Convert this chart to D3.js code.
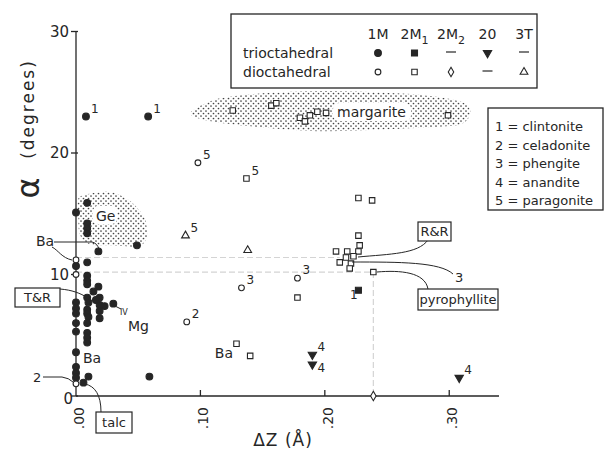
<!DOCTYPE html>
<html>
<head>
<meta charset="utf-8">
<script src="https://cdn.jsdelivr.net/npm/d3@7"></script>
<style>
body { margin: 0; background: #fff; }
text { font-family: "DejaVu Sans", sans-serif; fill: #262626; }
</style>
</head>
<body>
<svg id="chart" width="606" height="450"></svg>
<script>
// [dZ, alpha, label]
const trioct1M = [
    [0.008, 23.0, "1"], [0.058, 23.0, "1"],
    [0.009, 15.9], [0.000, 15.1], [0.009, 14.2], [0.009, 13.8], [0.009, 13.4],
    [0.018, 11.9], [0.049, 12.4], [0.000, 10.7], [0.009, 11.0], [0.009, 9.9],
    [0.009, 9.5], [0.009, 9.2], [0.018, 9.0],
    [0.000, 7.7], [0.000, 7.2], [0.000, 6.8], [0.000, 6.0], [0.000, 5.3],
    [0.000, 3.6], [0.000, 2.4], [0.000, 1.9], [0.000, 1.5],
    [0.009, 8.1], [0.010, 7.7], [0.019, 8.1], [0.019, 7.5], [0.023, 7.4],
    [0.030, 7.6], [0.009, 7.1], [0.009, 6.8], [0.010, 6.5], [0.019, 7.0],
    [0.019, 6.4], [0.009, 6.0], [0.009, 5.2], [0.009, 4.8], [0.009, 4.4],
    [0.010, 1.6], [0.006, 1.1], [0.059, 1.6], [0.014, 8.6], [0.016, 7.9]
];
const dioct1M = [
    [0.098, 19.2, "5"], [0.089, 6.1, "2"], [0.133, 8.9, "3"], [0.178, 9.7, "3"],
    [0.000, 11.2], [0.000, 10.0], [0.000, 1.0]
];
const dioct2M1 = [
    [0.137, 17.9, "5"], [0.227, 16.3], [0.238, 16.1],
    [0.126, 23.5], [0.157, 23.9], [0.161, 24.1], [0.180, 22.9], [0.184, 22.6],
    [0.188, 23.1], [0.194, 23.4], [0.201, 23.3], [0.299, 23.1],
    [0.209, 11.9], [0.218, 11.9], [0.227, 11.9], [0.228, 12.4], [0.227, 13.2],
    [0.212, 11.0], [0.217, 11.4], [0.221, 10.9], [0.220, 10.5], [0.223, 11.5],
    [0.239, 10.2], [0.178, 8.1], [0.129, 4.3], [0.140, 3.3]
];
const trioct2M1 = [[0.227, 8.7]];
const trioct20 = [[0.190, 3.4, "4"], [0.190, 2.6, "4"], [0.308, 1.5, "4"]];
const dioct2M2 = [[0.239, 0]];
const dioct3T = [[0.088, 13.2, "5"], [0.138, 12.0]];

const xTicks = [0, 0.1, 0.2, 0.3];
const xTickLabels = [".00", ".10", ".20", ".30"];
const yTicks = [0, 10, 20, 30];
const polytypes = ["1M", "2M1", "2M2", "20", "3T"];
const mineralKey = ["1 = clintonite", "2 = celadonite", "3 = phengite", "4 = anandite", "5 = paragonite"];

const margariteOutline = [
    [0.092, 23.3], [0.112, 24.4], [0.148, 24.9], [0.204, 25.1], [0.276, 24.8],
    [0.310, 24.2], [0.317, 23.3], [0.307, 22.3], [0.260, 22.0], [0.196, 21.8],
    [0.140, 22.2], [0.104, 22.7]
];
const geOutline = [
    [0.003, 16.4], [0.027, 16.8], [0.043, 16.1], [0.055, 14.7], [0.057, 13.1],
    [0.050, 12.3], [0.027, 12.4], [0.011, 12.5], [0.003, 13.3], [0.002, 14.9]
];

const ink = "#262626";
const svg = d3.select("#chart");
svg.append("rect").attr("width", 606).attr("height", 450).attr("fill", "#fff");

const x = d3.scaleLinear().domain([0, 0.34]).range([76, 499]);
const y = d3.scaleLinear().domain([0, 30]).range([396, 31.5]);

// stipple pattern
const defs = svg.append("defs");
const pat = defs.append("pattern").attr("id", "stip")
    .attr("width", 5).attr("height", 5).attr("patternUnits", "userSpaceOnUse");
pat.append("circle").attr("cx", 1).attr("cy", 1).attr("r", 0.85).attr("fill", "#444");
pat.append("circle").attr("cx", 3.5).attr("cy", 3.5).attr("r", 0.85).attr("fill", "#444");

const blob = d3.line().x(d => x(d[0])).y(d => y(d[1])).curve(d3.curveCardinalClosed.tension(0.2));
svg.append("path").attr("d", blob(margariteOutline)).attr("fill", "url(#stip)");
svg.append("path").attr("d", blob(geOutline)).attr("fill", "url(#stip)");
// clearings behind the region names
svg.append("rect").attr("x", 333).attr("y", 103).attr("width", 78).attr("height", 18).attr("rx", 6).attr("fill", "#fff");
svg.append("rect").attr("x", 93).attr("y", 206).attr("width", 24).attr("height", 18).attr("rx", 5).attr("fill", "#fff");

// faint reference lines
const faint = svg.append("g").attr("stroke", "#d4d4d4").attr("stroke-width", 1.2).attr("stroke-dasharray", "6,3");
faint.append("line").attr("x1", x(0)).attr("x2", x(0.239)).attr("y1", y(10.2)).attr("y2", y(10.2));
faint.append("line").attr("x1", x(0)).attr("x2", x(0.212)).attr("y1", y(11.4)).attr("y2", y(11.4));
faint.append("line").attr("x1", x(0.239)).attr("x2", x(0.239)).attr("y1", y(10.2)).attr("y2", y(0));

// axes
const ax = svg.append("g").attr("stroke", ink).attr("stroke-width", 1.3);
ax.append("line").attr("x1", x(0)).attr("x2", x(0)).attr("y1", y(30)).attr("y2", y(0));
ax.append("line").attr("x1", x(0)).attr("x2", x(0.34)).attr("y1", y(0)).attr("y2", y(0));
yTicks.forEach(t => {
    ax.append("line").attr("x1", x(0) - 5).attr("x2", x(0) + 2).attr("y1", y(t)).attr("y2", y(t));
});
xTicks.slice(1).forEach(t => {
    ax.append("line").attr("x1", x(t)).attr("x2", x(t)).attr("y1", y(0)).attr("y2", y(0) - 6);
});
svg.append("g").selectAll("text").data(yTicks).join("text")
    .attr("x", d => d === 0 ? x(0) - 3 : x(0) - 7)
    .attr("y", d => d === 0 ? y(d) + 3 : y(d))
    .attr("dy", "0.35em").attr("text-anchor", "end").attr("font-size", 15)
    .text(d => d);
svg.append("g").selectAll("text").data(xTicks).join("text")
    .attr("transform", d => `translate(${x(d) + 3},${y(0) + 11}) rotate(-90)`)
    .attr("dy", "0.35em").attr("text-anchor", "end").attr("font-size", 14)
    .text((d, i) => xTickLabels[i]);

svg.append("text").attr("transform", "translate(28,188) rotate(-90)")
    .attr("text-anchor", "middle").attr("dy", "0.35em").attr("font-size", 32).text("α");
svg.append("text").attr("transform", "translate(28,109) rotate(-90)")
    .attr("text-anchor", "middle").attr("dy", "0.35em").attr("font-size", 17)
    .attr("letter-spacing", 2).text("(degrees)");
svg.append("text").attr("x", 283).attr("y", 446).attr("text-anchor", "middle")
    .attr("font-size", 17).attr("letter-spacing", 1).text("ΔZ (Å)");

// marker drawing
const sym = (type, size) => d3.symbol().type(type).size(size)();
function drawSeries(data, type, size, filled, rot) {
    const g = svg.append("g");
    g.selectAll("path").data(data).join("path")
        .attr("d", sym(type, size))
        .attr("transform", d => `translate(${x(d[0])},${y(d[1])})${rot ? " rotate(180)" : ""}`)
        .attr("fill", filled ? ink : "#fff")
        .attr("stroke", ink).attr("stroke-width", 1.1);
    const labelled = data.filter(d => d[2]);
    // a label whose point sits just under another labelled point goes below it
    const below = d => labelled.some(o => o !== d && o[0] === d[0] && o[1] > d[1]);
    g.selectAll("text").data(labelled).join("text")
        .attr("x", d => x(d[0]) + 5)
        .attr("y", d => y(d[1]) + (below(d) ? 8 : -4))
        .attr("font-size", 12).text(d => d[2]);
}
drawSeries(trioct1M, d3.symbolCircle, 36, true);
drawSeries(dioct1M, d3.symbolCircle, 26, false);
drawSeries(dioct2M1, d3.symbolSquare, 30, false);
drawSeries(trioct2M1, d3.symbolSquare, 36, true);
drawSeries(trioct20, d3.symbolTriangle, 30, true, true);
drawSeries(dioct2M2, d3.symbolDiamond, 26, false);
drawSeries(dioct3T, d3.symbolTriangle, 26, false);

// annotations
const note = svg.append("g");
const callout = note.append("g").attr("fill", "none").attr("stroke", ink).attr("stroke-width", 1);
function boxText(label, bx, by, bw, bh) {
    note.append("rect").attr("x", bx).attr("y", by).attr("width", bw).attr("height", bh)
        .attr("fill", "#fff").attr("stroke", ink).attr("stroke-width", 1.2);
    note.append("text").attr("x", bx + bw / 2).attr("y", by + bh / 2).attr("dy", "0.36em")
        .attr("text-anchor", "middle").attr("font-size", 13).text(label);
}
function label(t, lx, ly, size, anchor) {
    note.append("text").attr("x", lx).attr("y", ly).attr("font-size", size || 14)
        .attr("text-anchor", anchor || "start").text(t);
}
callout.append("path").attr("d", "M54,242 L92,242 Q97,243 99,249");
callout.append("path").attr("d", "M52,247 C58,250 62,258 72,260");
callout.append("path").attr("d", "M60,289 C72,290 80,293 88,298");
callout.append("path").attr("d", "M43,377 L62,377 Q69,378 73,382");
callout.append("path").attr("d", "M101,412 C101,395 95,386 85,384");
callout.append("path").attr("d", "M115,306 L121,309");
callout.append("path").attr("d", "M428,240 C418,254 390,254 358,257");
callout.append("path").attr("d", "M453,274 C440,262 400,262 352,262");
callout.append("path").attr("d", "M428,289 C425,272 400,270 377,272");
label("Ba", 36, 246);
label("2", 33, 382, 13);
label("Ge", 96, 221);
label("IV", 120, 315, 8);
label("Mg", 128, 331);
label("Ba", 83, 363);
label("Ba", 233, 358, 14, "end");
label("1", 350, 299, 12);
label("3", 455, 282, 13);
label("margarite", 337, 117);
boxText("T&R", 15, 288, 45, 19);
boxText("talc", 96, 412, 36, 21);
boxText("R&R", 418, 222, 33, 19);
boxText("pyrophyllite", 418, 289, 80, 21);

// polytype legend
const lg = svg.append("g");
lg.append("rect").attr("x", 231).attr("y", 14).attr("width", 306).attr("height", 74)
    .attr("fill", "#fff").attr("stroke", ink).attr("stroke-width", 1.3);
const colX = d3.scalePoint().domain(polytypes).range([378, 524]);
polytypes.forEach(p => {
    const t = lg.append("text").attr("x", colX(p)).attr("y", 39).attr("text-anchor", "middle").attr("font-size", 14);
    if (p.startsWith("2M")) {
        t.append("tspan").text("2M");
        t.append("tspan").attr("dy", 5).attr("font-size", 11).text(p[2]);
    } else t.text(p);
});
lg.append("text").attr("x", 243).attr("y", 58).attr("font-size", 14).text("trioctahedral");
lg.append("text").attr("x", 243).attr("y", 77).attr("font-size", 14).text("dioctahedral");
const triRow = [[d3.symbolCircle, 36, true], [d3.symbolSquare, 36, true], null, [d3.symbolTriangle, 30, true, true], null];
const diRow = [[d3.symbolCircle, 26, false], [d3.symbolSquare, 30, false], [d3.symbolDiamond, 26, false], null, [d3.symbolTriangle, 26, false]];
[[triRow, 53], [diRow, 72]].forEach(([row, ry]) => {
    row.forEach((s, i) => {
        const cx = colX(polytypes[i]);
        if (!s) {
            lg.append("line").attr("x1", cx - 5).attr("x2", cx + 5).attr("y1", ry - 1).attr("y2", ry - 1)
                .attr("stroke", ink).attr("stroke-width", 1.2);
            return;
        }
        lg.append("path").attr("d", sym(s[0], s[1]))
            .attr("transform", `translate(${cx},${ry})${s[3] ? " rotate(180)" : ""}`)
            .attr("fill", s[2] ? ink : "#fff").attr("stroke", ink).attr("stroke-width", 1.1);
    });
});

// mineral key
const kg = svg.append("g");
kg.append("rect").attr("x", 488).attr("y", 108).attr("width", 115).attr("height", 102)
    .attr("fill", "#fff").attr("stroke", ink).attr("stroke-width", 1.3);
kg.selectAll("text").data(mineralKey).join("text")
    .attr("x", 495).attr("y", (d, i) => 131 + i * 18.5).attr("font-size", 13).text(d => d);
</script>
</body>
</html>
